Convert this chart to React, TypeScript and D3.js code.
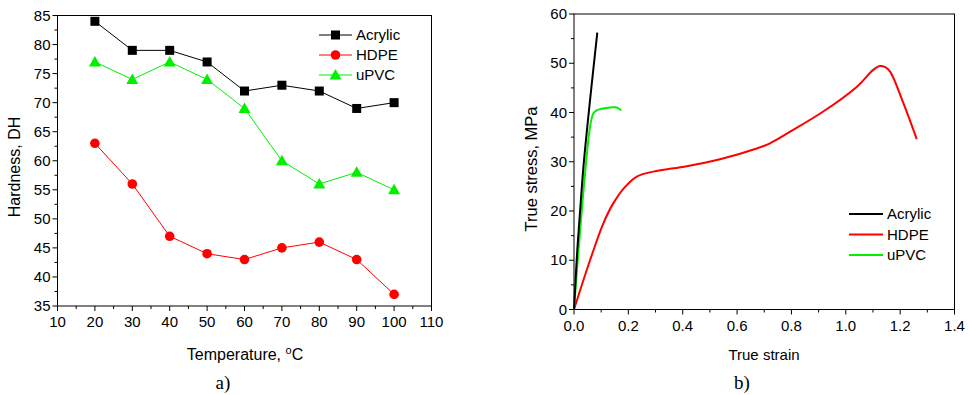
import { useEffect, useRef } from 'react'
import * as d3 from 'd3'

// Panel a) hardness vs temperature
const temperatures = [20, 30, 40, 50, 60, 70, 80, 90, 100]
const acrylicHardness = [84, 79, 79, 77, 72, 73, 72, 69, 70]
const hdpeHardness = [63, 56, 47, 44, 43, 45, 46, 43, 37]
const upvcHardness = [77, 74, 77, 74, 69, 60, 56, 58, 55]

// Panel b) true stress-strain curves (strain, stress)
const acrylicCurve: [number, number][] = [
  [0, 0], [0.012, 12], [0.025, 22], [0.037, 30.4], [0.06, 43], [0.0857, 56.2],
]
const upvcCurve: [number, number][] = [
  [0, 0], [0.015, 11], [0.03, 21], [0.0453, 30.4], [0.055, 35.5], [0.0637, 38.5],
  [0.072, 39.9], [0.082, 40.4], [0.113, 40.85], [0.15, 41.05], [0.162, 40.9], [0.174, 40.4],
]
const hdpeCurve: [number, number][] = [
  [0, 0], [0.059, 10], [0.108, 17.5], [0.145, 21.6], [0.188, 24.9], [0.231, 27],
  [0.292, 28], [0.415, 29.1], [0.537, 30.5], [0.672, 32.7], [0.721, 33.75],
  [0.795, 36.1], [0.917, 40.2], [1.04, 45.2], [1.1, 48.6], [1.125, 49.45],
  [1.145, 49.2], [1.163, 48.3], [1.212, 41.9], [1.261, 34.6],
]

const seriesNames = ['Acrylic', 'HDPE', 'uPVC']
const seriesColors = ['#000000', '#ff0000', '#00f000']

const FONT = 'Liberation Sans, Arial, sans-serif'
const SERIF = 'Liberation Serif, Times New Roman, serif'

const App = () => {
  const svgRef = useRef<SVGSVGElement>(null)

  useEffect(() => {
    if (!svgRef.current) return
    const svg = d3.select(svgRef.current)
    svg.selectAll('*').remove()

    const drawFrame = (
      g: d3.Selection<SVGGElement, unknown, null, undefined>,
      x: d3.ScaleLinear<number, number>,
      y: d3.ScaleLinear<number, number>,
      xMajor: number[], xMinor: number[], yMajor: number[], yMinor: number[],
      xFmt: (v: number) => string,
    ) => {
      const [x0, x1] = x.range()
      const [y0, y1] = y.range()
      g.append('rect')
        .attr('x', x0).attr('y', y1)
        .attr('width', x1 - x0).attr('height', y0 - y1)
        .attr('fill', 'none').attr('stroke', '#000').attr('stroke-width', 1)

      // x ticks
      xMinor.forEach(v => {
        g.append('line').attr('x1', x(v)).attr('x2', x(v)).attr('y1', y0).attr('y2', y0 + 3)
          .attr('stroke', '#000')
      })
      xMajor.forEach(v => {
        g.append('line').attr('x1', x(v)).attr('x2', x(v)).attr('y1', y0).attr('y2', y0 + 5)
          .attr('stroke', '#000')
        g.append('text').attr('x', x(v)).attr('y', y0 + 21)
          .attr('text-anchor', 'middle').style('font-size', '15px').style('font-family', FONT)
          .text(xFmt(v))
      })
      // y ticks
      yMinor.forEach(v => {
        g.append('line').attr('x1', x0).attr('x2', x0 - 3).attr('y1', y(v)).attr('y2', y(v))
          .attr('stroke', '#000')
      })
      yMajor.forEach(v => {
        g.append('line').attr('x1', x0).attr('x2', x0 - 5).attr('y1', y(v)).attr('y2', y(v))
          .attr('stroke', '#000')
        g.append('text').attr('x', x0 - 7).attr('y', y(v) + 5)
          .attr('text-anchor', 'end').style('font-size', '15px').style('font-family', FONT)
          .text(String(v))
      })
    }

    // ---------- Panel a ----------
    const ga = svg.append('g')
    const xa = d3.scaleLinear().domain([10, 110]).range([57.5, 431.5])
    const ya = d3.scaleLinear().domain([35, 85]).range([306, 15.5])
    drawFrame(ga, xa, ya,
      d3.range(10, 111, 10), d3.range(15, 110, 10),
      d3.range(35, 86, 5), d3.range(37.5, 85, 5), v => String(v))

    const lineA = d3.line<[number, number]>().x(d => xa(d[0])).y(d => ya(d[1]))
    const hardness = [acrylicHardness, hdpeHardness, upvcHardness]
    const marker = (g: d3.Selection<SVGGElement, unknown, null, undefined>, i: number, cx: number, cy: number) => {
      if (i === 0) {
        g.append('rect').attr('x', cx - 4.5).attr('y', cy - 4.5).attr('width', 9).attr('height', 9)
          .attr('fill', seriesColors[i])
      } else if (i === 1) {
        g.append('circle').attr('cx', cx).attr('cy', cy).attr('r', 4.8).attr('fill', seriesColors[i])
      } else {
        g.append('path').attr('d', `M${cx},${cy - 6}L${cx + 6},${cy + 4.5}L${cx - 6},${cy + 4.5}Z`)
          .attr('fill', seriesColors[i])
      }
    }
    hardness.forEach((vals, i) => {
      const pts = temperatures.map((t, j) => [t, vals[j]] as [number, number])
      ga.append('path').attr('d', lineA(pts)!).attr('fill', 'none')
        .attr('stroke', seriesColors[i]).attr('stroke-width', 1)
      pts.forEach(p => marker(ga, i, xa(p[0]), ya(p[1])))
    })

    // legend a
    seriesNames.forEach((name, i) => {
      const ly = 35 + i * 20
      ga.append('line').attr('x1', 319).attr('x2', 352).attr('y1', ly).attr('y2', ly)
        .attr('stroke', seriesColors[i]).attr('stroke-width', 1)
      marker(ga, i, 335.5, ly)
      ga.append('text').attr('x', 356).attr('y', ly + 5).style('font-size', '15px')
        .style('font-family', FONT).text(name)
    })

    ga.append('text')
      .attr('transform', 'translate(20,167) rotate(-90)')
      .attr('text-anchor', 'middle').style('font-size', '16px').style('font-family', FONT)
      .text('Hardness, DH')
    const ta = ga.append('text').attr('x', 245).attr('y', 360)
      .attr('text-anchor', 'middle').style('font-size', '16px').style('font-family', FONT)
    ta.append('tspan').text('Temperature, ')
    ta.append('tspan').attr('dy', -6).style('font-size', '11px').text('o')
    ta.append('tspan').attr('dy', 6).text('C')
    ga.append('text').attr('x', 223).attr('y', 389).attr('text-anchor', 'middle')
      .style('font-size', '19px').style('font-family', SERIF)
      .text('a)')

    // ---------- Panel b ----------
    const gb = svg.append('g')
    const xb = d3.scaleLinear().domain([0, 1.4]).range([574, 954.5])
    const yb = d3.scaleLinear().domain([0, 60]).range([309.5, 14])
    drawFrame(gb, xb, yb,
      d3.range(0, 8).map(i => i * 0.2), d3.range(0, 7).map(i => 0.1 + i * 0.2),
      d3.range(0, 61, 10), d3.range(5, 60, 10), v => v.toFixed(1))

    const lineB = d3.line<[number, number]>().x(d => xb(d[0])).y(d => yb(d[1]))
      .curve(d3.curveCatmullRom.alpha(0.5))
    const curves = [acrylicCurve, hdpeCurve, upvcCurve]
    ;[1, 2, 0].forEach(i => {
      gb.append('path').attr('d', lineB(curves[i])!).attr('fill', 'none')
        .attr('stroke', seriesColors[i]).attr('stroke-width', 2)
    })

    // legend b
    seriesNames.forEach((name, i) => {
      const ly = 214 + i * 20.5
      gb.append('line').attr('x1', 849).attr('x2', 883).attr('y1', ly).attr('y2', ly)
        .attr('stroke', seriesColors[i]).attr('stroke-width', 2)
      gb.append('text').attr('x', 887).attr('y', ly + 5).style('font-size', '15px')
        .style('font-family', FONT).text(name)
    })

    gb.append('text')
      .attr('transform', 'translate(537,169) rotate(-90)')
      .attr('text-anchor', 'middle').style('font-size', '16.5px').style('font-family', FONT)
      .text('True stress, MPa')
    gb.append('text').attr('x', 764).attr('y', 360)
      .attr('text-anchor', 'middle').style('font-size', '15px').style('font-family', FONT)
      .text('True strain')
    gb.append('text').attr('x', 742).attr('y', 389).attr('text-anchor', 'middle')
      .style('font-size', '19px').style('font-family', SERIF)
      .text('b)')
  }, [])

  return (
    <svg
      ref={svgRef}
      width={970}
      height={395}
      style={{ position: 'absolute', left: 0, top: 0, background: '#fff' }}
    />
  )
}

export default App
